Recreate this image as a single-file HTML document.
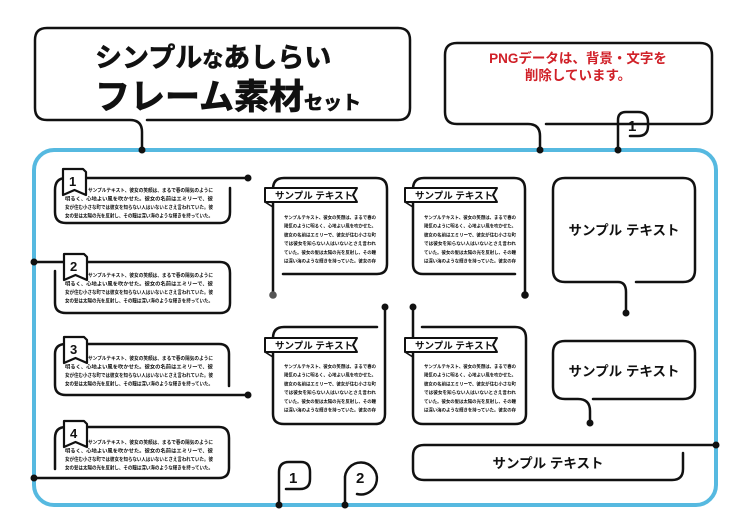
<!DOCTYPE html>
<html><head><meta charset="utf-8"><style>
html,body{margin:0;padding:0;background:#fff;}
svg{display:block;}
text{font-family:"Liberation Sans","Noto Sans CJK JP",sans-serif;font-weight:bold;fill:#111;}
.s{fill:none;stroke:#111;stroke-width:2.5;stroke-linecap:round;stroke-linejoin:round;}
.t{font-size:5px;}
.u{font-size:4.8px;}
</style></head><body>
<svg width="750" height="531" viewBox="0 0 750 531" xmlns="http://www.w3.org/2000/svg">
<defs>
<g id="flag"><path d="M0,0 H20 L23,3 V26 L11.5,21 L0,26 Z" fill="#fff" stroke="#111" stroke-width="2.2" stroke-linejoin="round"/></g>
<g id="ban"><path d="M0,0 H92 L88,7 L92,14 H0 Z" fill="#fff" stroke="#111" stroke-width="2" stroke-linejoin="round"/><path d="M0,14 L8,19 V14" fill="none" stroke="#111" stroke-width="1.6"/><text x="10" y="11" font-size="9.5">サンプル テキスト</text></g>
<g id="mtext">
<text class="u" x="0" y="0" textLength="92" lengthAdjust="spacingAndGlyphs">サンプルテキスト、彼女の笑顔は、まるで春の</text>
<text class="u" x="0" y="8.7" textLength="92" lengthAdjust="spacingAndGlyphs">陽気のように明るく、心地よい風を吹かせた。</text>
<text class="u" x="0" y="17.4" textLength="92" lengthAdjust="spacingAndGlyphs">彼女の名前はエミリーで、彼女が住む小さな町</text>
<text class="u" x="0" y="26.1" textLength="92" lengthAdjust="spacingAndGlyphs">では彼女を知らない人はいないとさえ言われ</text>
<text class="u" x="0" y="34.8" textLength="92" lengthAdjust="spacingAndGlyphs">ていた。彼女の髪は太陽の光を反射し、その瞳</text>
<text class="u" x="0" y="43.5" textLength="92" lengthAdjust="spacingAndGlyphs">は深い海のような輝きを持っていた。彼女の存</text>
</g>
<g id="ltext">
<text class="t" x="33" y="0" textLength="125" lengthAdjust="spacingAndGlyphs">サンプルテキスト、彼女の笑顔は、まるで春の陽気のように</text>
<text class="t" x="10" y="8.5" textLength="148" lengthAdjust="spacingAndGlyphs">明るく、心地よい風を吹かせた。彼女の名前はエミリーで、彼</text>
<text class="t" x="10" y="17" textLength="148" lengthAdjust="spacingAndGlyphs">女が住む小さな町では彼女を知らない人はいないとさえ言われていた。彼</text>
<text class="t" x="10" y="25.5" textLength="148" lengthAdjust="spacingAndGlyphs">女の髪は太陽の光を反射し、その瞳は深い海のような輝きを持っていた。</text>
</g>
</defs>

<rect x="34" y="150" width="682" height="355" rx="20" fill="none" stroke="#56b9e0" stroke-width="4"/>

<path class="s" d="M47,28 H398 Q410,28 410,40 V108 Q410,120 398,120 H147 M130,120 H47 Q35,120 35,108 V40 Q35,28 47,28 M130,120 Q142,120 142,132 V150"/>
<text x="95" y="67" font-size="27" stroke="#111" stroke-width="0.6">シンプル<tspan font-size="21">な</tspan>あしらい</text>
<text x="95" y="109" font-size="35" stroke="#111" stroke-width="0.8">フレーム素材<tspan font-size="19">セット</tspan></text>
<circle cx="142" cy="150" r="3.5" fill="#111"/>

<path class="s" d="M457,43 H700 Q712,43 712,55 V112 Q712,124 700,124 H546 M528,124 H457 Q445,124 445,112 V55 Q445,43 457,43 M528,124 Q540,124 540,136 V150"/>
<text x="578" y="63" font-size="13.5" style="fill:#d02028" text-anchor="middle">PNGデータは、背景・文字を</text>
<text x="578" y="80" font-size="13.5" style="fill:#d02028" text-anchor="middle">削除しています。</text>
<circle cx="540" cy="150" r="3.5" fill="#111"/>

<path class="s" d="M618,150 V120 Q618,112 626,112 H638 Q648,112 648,122 V126 Q648,136 638,136 H630"/>
<text x="628" y="131" font-size="15">1</text>
<circle cx="618" cy="150" r="3.5" fill="#111"/>

<path class="s" d="M248,178 H66 Q55,178 55,190 V212 Q55,223 66,223 H220 Q230,223 230,212 V188"/>
<circle cx="248" cy="178" r="3.5" fill="#111"/>
<use href="#flag" x="63" y="169"/><text x="69" y="186" font-size="13">1</text>
<use href="#ltext" x="55" y="192"/>

<path class="s" d="M34,262 H220 Q230,262 230,273 V303 Q230,313 220,313 H66 Q55,313 55,303 V271"/>
<circle cx="34" cy="262" r="3.5" fill="#111"/>
<use href="#flag" x="64" y="254"/><text x="70" y="271" font-size="13">2</text>
<use href="#ltext" x="55" y="277"/>

<path class="s" d="M229,386 V354 Q229,344 219,344 H66 Q55,344 55,354 V385 Q55,395 66,395 H248"/>
<circle cx="248" cy="395" r="3.5" fill="#111"/>
<use href="#flag" x="64" y="337"/><text x="70" y="354" font-size="13">3</text>
<use href="#ltext" x="55" y="360"/>

<path class="s" d="M55,469 V438 Q55,427 66,427 H219 Q229,427 229,438 V468 Q229,478 219,478 H34"/>
<circle cx="34" cy="478" r="3.5" fill="#111"/>
<use href="#flag" x="64" y="421"/><text x="70" y="438" font-size="13">4</text>
<use href="#ltext" x="55" y="444"/>

<path class="s" d="M273,295 V189 Q273,178 284,178 H376 Q387,178 387,189 V264 Q387,274 377,274 H283"/>
<circle cx="273" cy="295" r="3.8" fill="#555"/>
<use href="#ban" x="265" y="188"/>
<use href="#mtext" x="284" y="219"/>

<path class="s" d="M525,295 V189 Q525,178 514,178 H424 Q413,178 413,189 V264 Q413,274 423,274 H515"/>
<circle cx="525" cy="295" r="3.8" fill="#111"/>
<use href="#ban" x="405" y="188"/>
<use href="#mtext" x="424" y="219"/>

<path class="s" d="M385,308 V414 Q385,424 375,424 H284 Q273,424 273,414 V338 Q273,327 284,327 H377"/>
<circle cx="385" cy="307" r="3.5" fill="#111"/>
<use href="#ban" x="265" y="338"/>
<use href="#mtext" x="284" y="368"/>

<path class="s" d="M413,308 V414 Q413,424 423,424 H515 Q526,424 526,414 V338 Q526,327 515,327 H422"/>
<circle cx="413" cy="307" r="3.5" fill="#111"/>
<use href="#ban" x="405" y="338"/>
<use href="#mtext" x="424" y="368"/>

<path class="s" d="M636,282 H683 Q695,282 695,270 V190 Q695,178 683,178 H565 Q553,178 553,190 V270 Q553,282 565,282 H618 Q626,282 626,292 V313"/>
<circle cx="626" cy="313" r="3.5" fill="#111"/>
<text x="624" y="235" font-size="13.5" text-anchor="middle">サンプル テキスト</text>

<path class="s" d="M593,399 H683 Q695,399 695,387 V353 Q695,341 683,341 H565 Q553,341 553,353 V387 Q553,399 565,399 H578 Q590,399 590,411 V422"/>
<circle cx="590" cy="423" r="3.5" fill="#111"/>
<text x="624" y="376" font-size="13.5" text-anchor="middle">サンプル テキスト</text>

<path class="s" d="M716,445 H424 Q413,445 413,456 V469 Q413,480 424,480 H672 Q683,480 683,469 V453"/>
<circle cx="716" cy="445" r="3.5" fill="#111"/>
<text x="548" y="468" font-size="13.5" text-anchor="middle">サンプル テキスト</text>

<path class="s" d="M279,505 V472 Q279,462 289,462 H301 Q310,462 310,472 V479 Q310,489 300,489 H286"/>
<text x="289" y="483" font-size="15">1</text>
<circle cx="279" cy="505" r="3.5" fill="#111"/>
<path class="s" d="M345,505 V480 A16,16 0 1 1 357,494"/>
<text x="356" y="483" font-size="15">2</text>
<circle cx="345" cy="505" r="3.5" fill="#111"/>
</svg>
</body></html>
